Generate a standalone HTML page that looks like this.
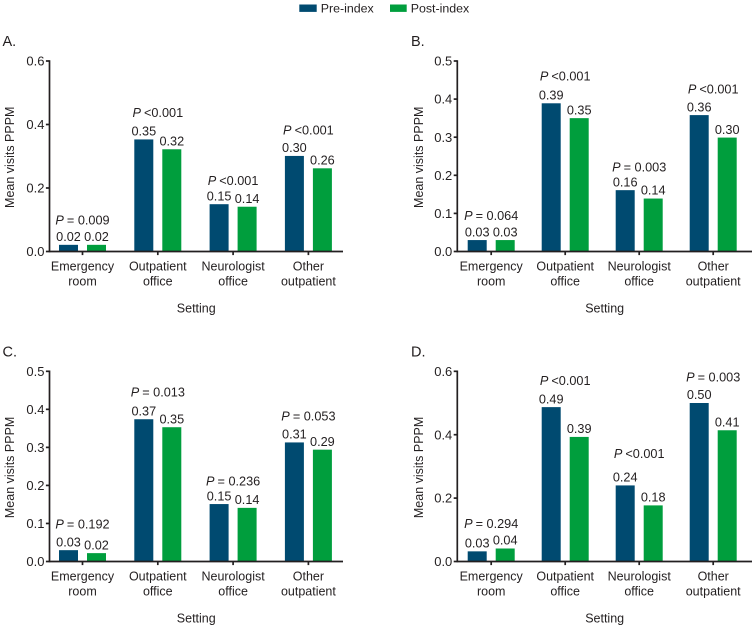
<!DOCTYPE html>
<html lang="en">
<head>
<meta charset="utf-8">
<title>Mean visits PPPM by setting</title>
<style>
  html, body { margin: 0; padding: 0; background: #fff; }
  svg { display: block; }
  text { font-family: "Liberation Sans", Arial, sans-serif; fill: #231f20; }
</style>
</head>
<body>
<svg id="figure" xmlns="http://www.w3.org/2000/svg" width="755" height="628" viewBox="0 0 755 628">
  <g>
    <rect x="299.3" y="4.5" width="17.4" height="7.4" fill="#004a70"></rect>
    <text x="320.7" y="12.5" font-size="12.4">Pre-index</text>
    <rect x="390" y="4.5" width="16.7" height="7.4" fill="#009e3d"></rect>
    <text x="410.7" y="12.5" font-size="12.4">Post-index</text>
  </g>
</svg>
<script>
const categoryLines = [["Emergency", "room"], ["Outpatient", "office"], ["Neurologist", "office"], ["Other", "outpatient"]];

const ticksA = [0, 0.2, 0.4, 0.6];
const preA = [0.021, 0.353, 0.149, 0.301];
const postA = [0.021, 0.322, 0.141, 0.262];
const pValuesA = ["= 0.009", "<0.001", "<0.001", "<0.001"];
const pClearanceA = [0.078, 0.085, 0.074, 0.082];

const ticksB = [0, 0.1, 0.2, 0.3, 0.4, 0.5];
const preB = [0.03, 0.389, 0.161, 0.358];
const postB = [0.03, 0.35, 0.139, 0.299];
const pValuesB = ["= 0.064", "<0.001", "= 0.003", "<0.001"];
const pClearanceB = [0.064, 0.071, 0.061, 0.068];

const ticksC = [0, 0.1, 0.2, 0.3, 0.4, 0.5];
const preC = [0.0298, 0.374, 0.151, 0.313];
const postC = [0.022, 0.353, 0.141, 0.294];
const pValuesC = ["= 0.192", "= 0.013", "= 0.236", "= 0.053"];
const pClearanceC = [0.068, 0.071, 0.061, 0.069];

const ticksD = [0, 0.2, 0.4, 0.6];
const preD = [0.032, 0.487, 0.24, 0.5];
const postD = [0.041, 0.393, 0.177, 0.414];
const pValuesD = ["= 0.294", "<0.001", "<0.001", "= 0.003"];
const pClearanceD = [0.079, 0.084, 0.101, 0.082];

const NS = "http://www.w3.org/2000/svg";
const INK = "#231f20";
const PRE_COLOR = "#004a70";
const POST_COLOR = "#009e3d";
const AXIS_WIDTH = 1.7;
const figure = document.getElementById("figure");

function make(tag, parent, attrs, content) {
  const node = document.createElementNS(NS, tag);
  Object.keys(attrs).forEach(function (key) { node.setAttribute(key, attrs[key]); });
  if (content !== undefined) node.textContent = content;
  parent.appendChild(node);
  return node;
}

function drawPanel(cfg) {
  const yMax = cfg.ticks[cfg.ticks.length - 1];
  const yScale = function (v) { return cfg.base - (v / yMax) * (cfg.base - cfg.top); };
  const xScale = function (i) { return cfg.firstCenter + i * cfg.step; };
  const barWidth = 19;
  const barOffset = 4.5;

  const panel = make("g", figure, {});
  
  

  const letter = make("text", panel, { x: cfg.letterX, y: cfg.top - 15, "font-size": 14.5 }, cfg.id.toUpperCase() + ".");
  
  

  cfg.ticks.forEach(function (t) {
    const y = yScale(t);
    const tick = make("line", panel, { x1: cfg.axisX - 3.6, x2: cfg.axisX, y1: y, y2: y, stroke: INK, "stroke-width": AXIS_WIDTH });
    
    
    const label = make("text", panel, { x: cfg.axisX - 5, y: y + 4.6, "text-anchor": "end", "font-size": 13 }, t.toFixed(1));
    
    
  });

  const yTitleY = (cfg.top + cfg.base) / 2 + 1;
  const yTitle = make("text", panel, {
    x: cfg.yTitleX, y: yTitleY, "text-anchor": "middle", "font-size": 12.5,
    transform: "rotate(-90 " + cfg.yTitleX + " " + yTitleY + ")"
  }, "Mean visits PPPM");
  
  

  categoryLines.forEach(function (lines, i) {
    const cx = xScale(i);
    const pre = cfg.pre[i];
    const post = cfg.post[i];

    const preBar = make("rect", panel, { x: cx - barOffset - barWidth, y: yScale(pre), width: barWidth, height: cfg.base - yScale(pre), fill: PRE_COLOR });
    
    
    const postBar = make("rect", panel, { x: cx + barOffset, y: yScale(post), width: barWidth, height: cfg.base - yScale(post), fill: POST_COLOR });
    
    

    const preValue = make("text", panel, { x: cx - barOffset - barWidth / 2, y: yScale(pre) - 3.8, "text-anchor": "middle", "font-size": 12.7 }, pre.toFixed(2));
    
    
    const postValue = make("text", panel, { x: cx + barOffset + barWidth / 2, y: yScale(post) - 3.8, "text-anchor": "middle", "font-size": 12.7 }, post.toFixed(2));
    
    

    const pY = yScale(Math.max(pre, post) + cfg.pClearance[i]) + 4.4;
    const pLabel = make("text", panel, { x: cx, y: pY, "text-anchor": "middle", "font-size": 12.7 });
    
    
    make("tspan", pLabel, { "font-style": "italic" }, "P ");
    make("tspan", pLabel, {}, cfg.pValues[i]);

    const xTick = make("line", panel, { x1: cx, x2: cx, y1: cfg.base, y2: cfg.base + 3.6, stroke: INK, "stroke-width": AXIS_WIDTH });
    
    

    lines.forEach(function (line, n) {
      const cat = make("text", panel, { x: cx, y: cfg.base + 19 + n * 15, "text-anchor": "middle", "font-size": 12.5 }, line);
      
      
    });
  });

  const yAxis = make("line", panel, { x1: cfg.axisX, x2: cfg.axisX, y1: cfg.top - 0.8, y2: cfg.base + 0.8, stroke: INK, "stroke-width": AXIS_WIDTH });
  
  
  const xAxis = make("line", panel, { x1: cfg.axisX, x2: cfg.axisEnd, y1: cfg.base, y2: cfg.base, stroke: INK, "stroke-width": AXIS_WIDTH });
  
  

  const xTitle = make("text", panel, { x: (cfg.axisX + cfg.axisEnd) / 2, y: cfg.base + 61, "text-anchor": "middle", "font-size": 12.5 }, "Setting");
  
  
}

const leftColumn = { axisX: 49.5, axisEnd: 343, firstCenter: 82.5, step: 75.3, letterX: 2.5, yTitleX: 14 };
const rightColumn = { axisX: 457.3, axisEnd: 752, firstCenter: 491.2, step: 74, letterX: 411, yTitleX: 423 };
const topRow = { top: 61, base: 251.5 };
const bottomRow = { top: 371.3, base: 561.5 };

drawPanel(Object.assign({ id: "a", ticks: ticksA, pre: preA, post: postA, pValues: pValuesA, pClearance: pClearanceA }, leftColumn, topRow));
drawPanel(Object.assign({ id: "b", ticks: ticksB, pre: preB, post: postB, pValues: pValuesB, pClearance: pClearanceB }, rightColumn, topRow));
drawPanel(Object.assign({ id: "c", ticks: ticksC, pre: preC, post: postC, pValues: pValuesC, pClearance: pClearanceC }, leftColumn, bottomRow));
drawPanel(Object.assign({ id: "d", ticks: ticksD, pre: preD, post: postD, pValues: pValuesD, pClearance: pClearanceD }, rightColumn, bottomRow));
</script>
</body>
</html>
